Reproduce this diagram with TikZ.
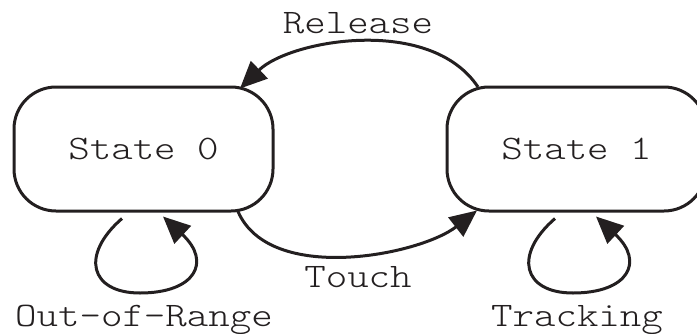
\documentclass[tikz,border=0pt]{standalone}
\usepackage{fontspec}
\newfontfamily\monofnt[FakeStretch=1.19]{Latin Modern Mono Light}
\usetikzlibrary{arrows.meta,calc}
\definecolor{ink}{HTML}{231F20}
\tikzset{
  statebox/.style={draw=ink, line width=3pt, rounded corners=42pt,
    minimum width=259pt, minimum height=124pt, inner sep=0pt,
    font=\monofnt\fontsize{34.4}{38}\selectfont, text=ink},
  lbl/.style={font=\monofnt\fontsize{34.4}{38}\selectfont, text=ink, anchor=base, inner sep=0pt},
  conn/.style={draw=ink, line width=3pt, -{Triangle[length=27pt,width=24pt]}}
}
\begin{document}
\begin{tikzpicture}[x=1pt,y=-1pt]
\useasboundingbox (0,0) rectangle (697,333);
\node[statebox] (s0) at (143.5,149) {State 0};
\node[statebox] (s1) at (576.5,149) {State 1};
\node[lbl] (lrel) at (358,33) {Release};
\node[lbl] (ltou) at (358,287) {Touch};
\node[lbl] (loor) at (144,326) {Out-of-Range};
\node[lbl] (ltrk) at (577,326) {Tracking};
% Release: State 1 -> State 0
\draw[conn] ($(s1.north)+(-98.5,1.5)$) .. controls (430,15) and (290,40) .. ($(s0.north)+(96.5,3)$);
% Touch: State 0 -> State 1
\draw[conn] ($(s0.south)+(94.5,-1)$) .. controls (270,285) and (420,255) .. ($(s1.south)+(-99.5,-2)$);
% Self loops
\draw[conn] ($(s0.south)+(-21.5,6)$) .. controls (80,255) and (90,293) .. (140,293)
   .. controls (195,293) and (212,262) .. ($(s0.south)+(19.5,4)$);
\draw[conn] ($(s1.south)+(-21.5,6)$) .. controls (513,255) and (523,293) .. (573,293)
   .. controls (628,293) and (645,262) .. ($(s1.south)+(19.5,4)$);
\end{tikzpicture}
\end{document}
